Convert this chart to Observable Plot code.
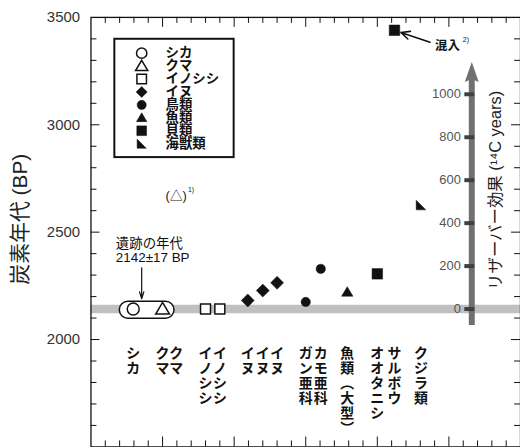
<!DOCTYPE html>
<html><head><meta charset="utf-8">
<script src="https://cdn.jsdelivr.net/npm/d3@7"></script>
<script src="https://cdn.jsdelivr.net/npm/@observablehq/plot@0.6"></script>
<style>
html,body{margin:0;padding:0;background:#fff;overflow:hidden;}
#chart svg{display:block;}
</style></head><body><div id="chart"></div>
<script>
// ---------- data ----------
const sampleNames = ["シカ","クマ","クマ","イノシシ","イノシシ","イヌ","イヌ","イヌ","ガン亜科","カモ亜科","魚類（大型）","オオタニシ","サルボウ","クジラ類"];
const sampleGroups = ["シカ","クマ","クマ","イノシシ","イノシシ","イヌ","イヌ","イヌ","鳥類","鳥類","魚類","貝類","貝類","海獣類"];
const samplePositions = [0.59, 1.0, 1.19, 1.6, 1.8, 2.19, 2.4, 2.6, 3.0, 3.21, 3.58, 4.0, 4.24, 4.61];
const sampleAges = [2142, 2142, 2667, 2142, 2142, 2182, 2228, 2264, 2175, 2329, 2221, 2306, 3440, 2626];
const sampleNotes = ["", "", "1)", "", "", "", "", "", "", "", "", "", "2)", ""];

const legendGroups = ["シカ","クマ","イノシシ","イヌ","鳥類","魚類","貝類","海獣類"];
const groupShapes = ["circle","triangle","square","diamond","circle","triangle","square","corner"];
const groupFilled = [false,false,false,true,true,true,true,true];

const siteAge = 2142;           // 遺跡の年代
const siteAgeError = 17;
const reservoirTicks = [0, 200, 400, 600, 800, 1000];
const reservoirArrow = [-77, 1150];
const yTickLabels = [2000, 2500, 3000, 3500];

// ---------- layout ----------
const W = 523, H = 450, ML = 91, MT = 17, MB = 1;
const frameW = W - ML, frameH = H - MT - MB;
const xDomain = [0, 6], yDomain = [1500, 3500];
const px2x = px => (px - ML) / frameW * 6;
const px2y = py => 3500 - (py - MT) / frameH * 2000;

const groupRadius = [6, 6.3, 5, 6.5, 4.7, 5.2, 5.3, 4.8];
const legendRadius = [5.2, 5.6, 4.8, 5.6, 4.6, 4.8, 4.9, 4.6];

function rad(s){ return Math.sqrt(s / Math.PI); }
const shapes = {
  circle: {draw(c, s){ const r = rad(s); c.moveTo(r, 0); c.arc(0, 0, r, 0, 2 * Math.PI); c.closePath(); }},
  triangle: {draw(c, s){ const r = rad(s); c.moveTo(0, -r * 1.05); c.lineTo(r * 1.1, r * 0.8); c.lineTo(-r * 1.1, r * 0.8); c.closePath(); }},
  square: {draw(c, s){ const r = rad(s); c.rect(-r, -r, 2 * r, 2 * r); }},
  diamond: {draw(c, s){ const r = rad(s); c.moveTo(0, -r); c.lineTo(r, 0); c.lineTo(0, r); c.lineTo(-r, 0); c.closePath(); }},
  corner: {draw(c, s){ const r = rad(s); c.moveTo(-r, -r); c.lineTo(r, r); c.lineTo(-r, r); c.closePath(); }}
};
const arrowHead = {draw(c){ c.moveTo(0, 0); c.lineTo(7, 20); c.lineTo(0, 17); c.lineTo(-7, 20); c.closePath(); }};

const samples = sampleNames.map((name, i) => ({
  name, group: sampleGroups[i], x: samplePositions[i], age: sampleAges[i], note: sampleNotes[i]
}));
const verticalLabel = name => Array.from(name).map(ch => ch === "（" ? "︵" : ch === "）" ? "︶" : ch).join("\n");

const marks = [];
// site age band
marks.push(Plot.ruleY([siteAge], {stroke: "#c0c0c0", strokeWidth: 8.5}));

// reservoir effect arrow
marks.push(Plot.ruleX([px2x(474)], {y1: siteAge + reservoirArrow[0], y2: siteAge + reservoirArrow[1] - 80, stroke: "#707070", strokeWidth: 6}));
marks.push(Plot.dot([px2x(474)], {x: d => d, y: siteAge + reservoirArrow[1], symbol: arrowHead, fill: "#707070", stroke: "none", r: 5}));
marks.push(Plot.ruleY(reservoirTicks, {y: d => siteAge + d, x1: px2x(467), x2: px2x(477), stroke: "#404040", strokeWidth: 4}));
marks.push(Plot.text(reservoirTicks, {x: px2x(467), y: d => siteAge + d, text: d => String(d), textAnchor: "end", dx: -4, fill: "#555", fontSize: 13}));
marks.push(Plot.text(["リザーバー効果 (¹⁴C years)"], {x: px2x(498), y: px2y(191), text: d => d, rotate: -90, fontSize: 16.5, fill: "#222"}));

// capsule around site-age samples
marks.push(Plot.rect([0], {x1: px2x(120), x2: px2x(175), y1: px2y(320), y2: px2y(303), rx: 8.5, fill: "white", stroke: "#111", strokeWidth: 1.5}));

// data points
legendGroups.forEach((g, gi) => {
  const rows = samples.filter(d => d.group === g && d.note !== "1)");
  marks.push(Plot.dot(rows, {
    x: "x", y: "age", symbol: shapes[groupShapes[gi]], r: groupRadius[gi],
    fill: groupFilled[gi] ? "#111" : "white", stroke: "#111", strokeWidth: groupFilled[gi] ? 0.5 : 1.5
  }));
});
// parenthesized bear sample
const paren = samples.filter(d => d.note === "1)");
marks.push(Plot.text(paren, {x: "x", y: "age", text: () => "(△)", fontSize: 13, fill: "#222"}));
marks.push(Plot.text(paren, {x: "x", y: "age", text: "note", fontSize: 7, dx: 15, dy: -7, fill: "#222"}));

// contamination annotation
const mixed = samples.filter(d => d.note === "2)");
marks.push(Plot.arrow(mixed, {x1: px2x(432), y1: px2y(42), x2: d => d.x + 0.09, y2: d => d.age - 10, stroke: "#111", strokeWidth: 1.6, headLength: 9, headAngle: 50}));
marks.push(Plot.text(["混入"], {x: px2x(437), y: px2y(46), text: d => d, textAnchor: "start", fontSize: 12.5, fontWeight: "bold", fill: "#111"}));
marks.push(Plot.text(mixed, {x: px2x(465), y: px2y(46), text: "note", textAnchor: "start", fontSize: 7, dy: -7, fill: "#111"}));

// site-age annotation
marks.push(Plot.text([`遺跡の年代\n${siteAge}±${siteAgeError} BP`], {x: px2x(116), y: px2y(239), text: d => d, textAnchor: "start", lineAnchor: "top", lineHeight: 1.05, fontSize: 13.5, fill: "#111"}));
marks.push(Plot.arrow([0], {x1: px2x(142), x2: px2x(142), y1: px2y(269), y2: px2y(300), stroke: "#111", strokeWidth: 1.2, headLength: 9, headAngle: 35}));

// sample labels (vertical)
marks.push(Plot.text(samples, {x: "x", y: px2y(349), text: d => verticalLabel(d.name), lineAnchor: "top", lineHeight: 1.08, fontSize: 14, fontWeight: "bold", fill: "#111"}));

// legend
marks.push(Plot.rect([0], {x1: px2x(115), x2: px2x(235), y1: px2y(158), y2: px2y(39), fill: "none", stroke: "#111", strokeWidth: 2}));
legendGroups.forEach((g, gi) => {
  marks.push(Plot.dot([g], {x: px2x(142), y: px2y(53 + 13 * gi), symbol: shapes[groupShapes[gi]], r: legendRadius[gi],
    fill: groupFilled[gi] ? "#111" : "white", stroke: "#111", strokeWidth: groupFilled[gi] ? 0.5 : 1.5}));
});
marks.push(Plot.text(legendGroups, {x: px2x(166), y: (d, i) => px2y(53 + 13 * i), text: d => d, textAnchor: "start", fontSize: 13.5, fontWeight: "bold", fill: "#111"}));

// axes: ticks on all four sides pointing inward
const minorX = d3.range(0, 6.001, 0.2).filter(v => Math.abs(v - Math.round(v)) > 1e-6);
const majorX = [1, 2, 3, 4, 5];
const minorY = d3.range(1600, 3500, 100).filter(v => v % 500 !== 0);
const majorY = [2000, 2500, 3000];
marks.push(Plot.tickX(minorX, {x: d => d, insetBottom: frameH - 6, stroke: "#111"}));
marks.push(Plot.tickX(majorX, {x: d => d, insetBottom: frameH - 10, stroke: "#111"}));
marks.push(Plot.tickX(minorX, {x: d => d, insetTop: frameH - 6, stroke: "#111"}));
marks.push(Plot.tickX(majorX, {x: d => d, insetTop: frameH - 10, stroke: "#111"}));
marks.push(Plot.tickY(minorY, {y: d => d, insetRight: frameW - 6, stroke: "#111"}));
marks.push(Plot.tickY(majorY, {y: d => d, insetRight: frameW - 9, stroke: "#111"}));
marks.push(Plot.tickY(minorY, {y: d => d, insetLeft: frameW - 6, stroke: "#111"}));
marks.push(Plot.tickY(majorY, {y: d => d, insetLeft: frameW - 9, stroke: "#111"}));
marks.push(Plot.text(yTickLabels, {x: 0, y: d => d, text: d => String(d), textAnchor: "end", dx: -11, fontSize: 15, fill: "#333"}));
marks.push(Plot.text(["炭素年代 (BP)"], {x: px2x(20), y: px2y(220), text: d => d, rotate: -90, fontSize: 21, fill: "#222"}));
marks.push(Plot.frame({stroke: "#111", strokeWidth: 1.3}));

const chart = Plot.plot({
  width: W, height: H,
  marginLeft: ML, marginRight: 0, marginTop: MT, marginBottom: MB,
  x: {domain: xDomain, axis: null},
  y: {domain: yDomain, axis: null},
  style: {fontFamily: "'Liberation Sans', 'Noto Sans CJK JP', sans-serif", background: "white", color: "#111", overflow: "visible"},
  marks
});
document.getElementById("chart").appendChild(chart);
</script>
</body></html>
